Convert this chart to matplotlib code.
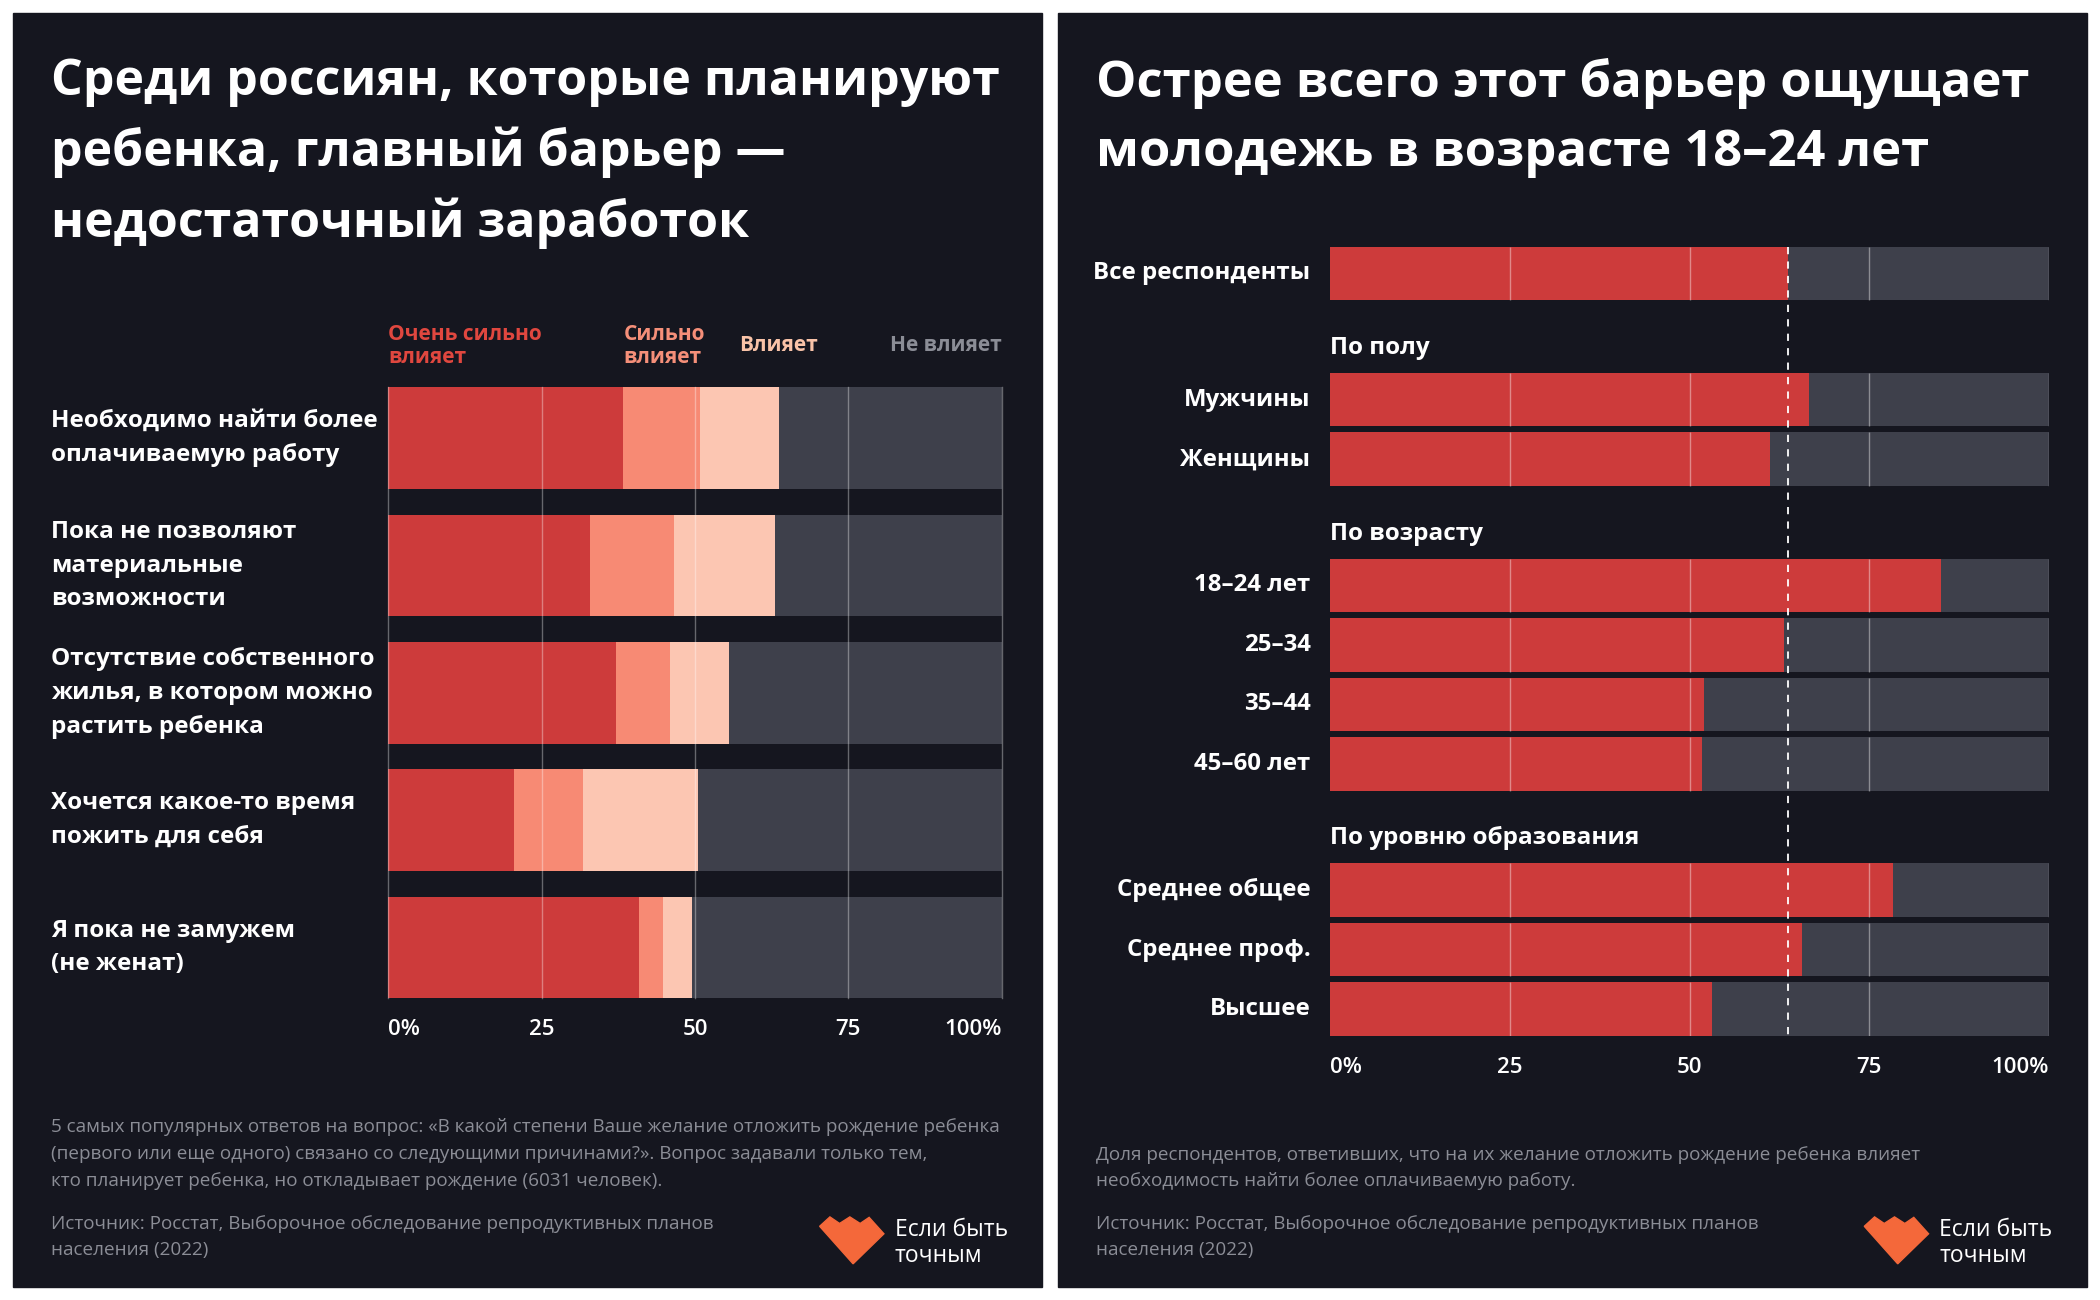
import numpy as np
import matplotlib
matplotlib.use("Agg")
from matplotlib import pyplot as plt
from matplotlib.patches import Rectangle, Polygon
from matplotlib import transforms

plt.rcParams['font.family'] = ['Open Sans', 'DejaVu Sans']

# --- data (left panel)
left_labels = ["Необходимо найти более\nоплачиваемую работу",
               "Пока не позволяют\nматериальные\nвозможности",
               "Отсутствие собственного\nжилья, в котором можно\nрастить ребенка",
               "Хочется какое-то время\nпожить для себя",
               "Я пока не замужем\n(не женат)"]
very_strong = [38.3, 32.9, 37.1, 20.5, 40.8]
strong = [12.5, 13.7, 8.8, 11.3, 3.9]
affects = [12.9, 16.4, 9.7, 18.6, 4.8]
no_effect = [36.3, 37.0, 44.4, 49.6, 50.5]
legend_names = ["Очень сильно\nвлияет", "Сильно\nвлияет", "Влияет", "Не влияет"]

# --- data (right panel)
group_names = [None, "По полу", "По возрасту", "По уровню образования"]
group_labels = [["Все респонденты"],
                ["Мужчины", "Женщины"],
                ["18–24 лет", "25–34", "35–44", "45–60 лет"],
                ["Среднее общее", "Среднее проф.", "Высшее"]]
group_values = [[63.7],
                [66.6, 61.2],
                [84.9, 63.1, 52.0, 51.7],
                [78.3, 65.6, 53.1]]
ticks = [0, 25, 50, 75, 100]
tick_labels = ["0%", "25", "50", "75", "100%"]

BG = "#15161f"
RED = "#cd3b3b"
SALMON = "#f78a74"
PEACH = "#fcc6b2"
GREY = "#3e404b"
FOOT = "#8b8d96"
LOGO = "#f4683a"

W, H = 1568, 970   # layout measured on a 1568x970 grid
def fx(x): return x / W
def fy(y): return 1 - y / H

fig = plt.figure(figsize=(21, 13), dpi=100, facecolor="white")

for x0 in (10, 790):
    fig.patches.append(Rectangle((fx(x0), fy(960)), fx(768), 950 / H,
                                 transform=fig.transFigure, color=BG, zorder=-5))

# ---------------- left panel
fig.text(fx(38), fy(114), "Среди россиян, которые планируют\nребенка, главный барьер —\nнедостаточный заработок",
         color="white", fontsize=36, fontweight="bold", va="center", ha="left", linespacing=1.5)

ax1 = fig.add_axes([fx(290), fy(745), fx(748) - fx(290), (745 - 289) / H])
ax1.set_facecolor("none")
y = np.arange(len(left_labels))
left = np.zeros(len(y))
for vals, col in zip([very_strong, strong, affects, no_effect], [RED, SALMON, PEACH, GREY]):
    ax1.barh(y, vals, left=left, height=0.8, color=col, zorder=2)
    left = left + np.array(vals)
for t in ticks:
    ax1.axvline(t, color="white", alpha=0.35, lw=1, zorder=3, clip_on=False)
ax1.set_xlim(0, 100)
ax1.set_ylim(4.4, -0.4)

lab_tr = transforms.blended_transform_factory(fig.transFigure, ax1.transData)
for i, lab in enumerate(left_labels):
    fig.text(fx(38), i, lab, transform=lab_tr, color="white", fontsize=17.5,
             fontweight="bold", va="center", ha="left", linespacing=1.55)

hdr = transforms.blended_transform_factory(ax1.transData, ax1.transAxes)
leg_x = [0, very_strong[0], 57.2, 100]
leg_col = ["#e0473f", "#f58f79", "#f9c3a8", "#8b8d96"]
for name, xx, col, ha in zip(legend_names, leg_x, leg_col, ["left", "left", "left", "right"]):
    ax1.text(xx, 1.068, name, transform=hdr, color=col, fontsize=15, fontweight="bold",
             va="center", ha=ha, linespacing=1.1)

# ---------------- right panel
fig.text(fx(818), fy(88), "Острее всего этот барьер ощущает\nмолодежь в возрасте 18–24 лет",
         color="white", fontsize=36.5, fontweight="bold", va="center", ha="left", linespacing=1.5)

ax2 = fig.add_axes([fx(993), fy(773), fx(1530) - fx(993), (773 - 184) / H])
ax2.set_facecolor("none")
pos = []
cur = 0.0
for gi, (gname, labs, vals) in enumerate(zip(group_names, group_labels, group_values)):
    if gi > 0:
        cur += 2.12
    if gname:
        ax2.text(0, cur - 0.87, gname, color="white", fontsize=17.5, fontweight="bold",
                 va="center", ha="left")
    for j, (lab, v) in enumerate(zip(labs, vals)):
        yy = cur + j
        ax2.barh(yy, 100, height=0.9, color=GREY, zorder=1)
        ax2.barh(yy, v, height=0.9, color=RED, zorder=2)
        ax2.vlines([25, 50, 75, 100], yy - 0.45, yy + 0.45, color="white", alpha=0.4, lw=1, zorder=3)
        ax2.annotate(lab, xy=(0, yy), xytext=(-14, 0), textcoords="offset points",
                     color="white", fontsize=17.3, fontweight="bold", va="center", ha="right")
        pos.append(yy)
    cur += len(labs) - 1
ax2.vlines(group_values[0][0], -0.45, pos[-1] + 0.45, color="white", lw=1.3,
           linestyles=(0, (4, 4)), zorder=4)
ax2.set_xlim(0, 100)
ax2.set_ylim(pos[-1] + 0.45, -0.45)

for ax in (ax1, ax2):
    for s in ax.spines.values():
        s.set_visible(False)
    ax.set_yticks([])
    ax.set_xticks(ticks)
    ax.set_xticklabels(tick_labels, color="white", fontsize=16, fontweight="semibold")
    ax.tick_params(axis="x", length=0, pad=15)
    lbls = ax.get_xticklabels()
    lbls[0].set_ha("left")
    lbls[-1].set_ha("right")

# ---------------- footnotes and logo
fig.text(fx(38), fy(861), "5 самых популярных ответов на вопрос: «В какой степени Ваше желание отложить рождение ребенка\n"
         "(первого или еще одного) связано со следующими причинами?». Вопрос задавали только тем,\n"
         "кто планирует ребенка, но откладывает рождение (6031 человек).",
         color=FOOT, fontsize=13.6, va="center", ha="left", linespacing=1.62)
fig.text(fx(818), fy(871.5), "Доля респондентов, ответивших, что на их желание отложить рождение ребенка влияет\n"
         "необходимость найти более оплачиваемую работу.",
         color=FOOT, fontsize=13.6, va="center", ha="left", linespacing=1.62)

shape = np.array([(0, 0.2), (0.16, 0), (0.31, 0.14), (0.47, 0), (0.63, 0.14),
                  (0.77, 0.01), (1, 0.36), (0.52, 1)])
for x0, lx in ((38, 612), (818, 1392)):
    fig.text(fx(x0), fy(923), "Источник: Росстат, Выборочное обследование репродуктивных планов\nнаселения (2022)",
             color=FOOT, fontsize=13.6, va="center", ha="left", linespacing=1.62)
    pts = np.column_stack([fx(lx + shape[:, 0] * 48), fy(908 + shape[:, 1] * 35)])
    fig.patches.append(Polygon(pts, closed=True, transform=fig.transFigure, color=LOGO))
    fig.text(fx(lx + 56), fy(927.5), "Если быть\nточным", color="white", fontsize=16.5,
             va="center", ha="left", linespacing=1.1)

fig.savefig("out.png", dpi=100, facecolor="white")
